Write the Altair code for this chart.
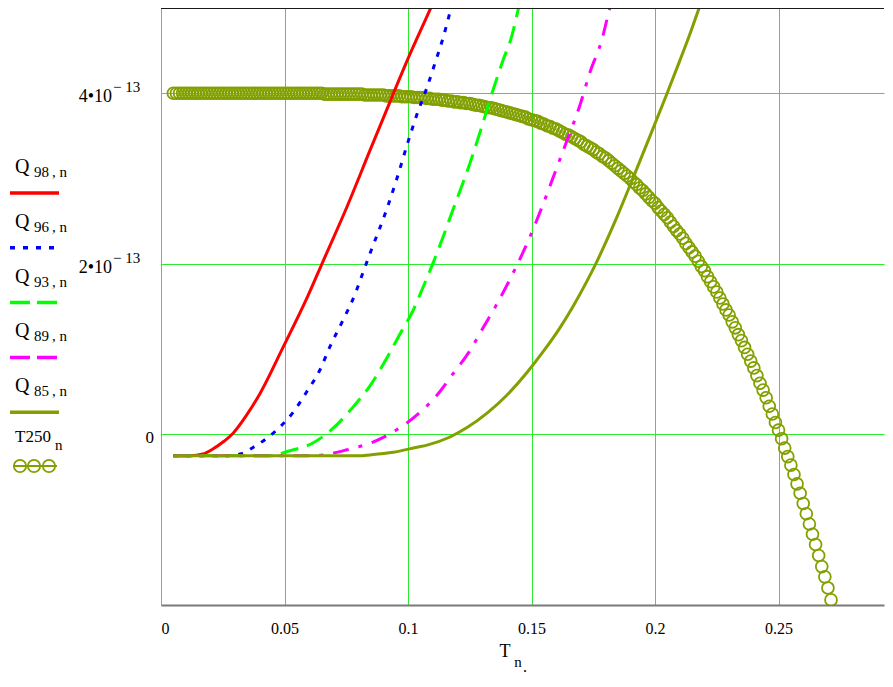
import altair as alt
import pandas as pd

SCALE = 1e-13
SERIF = "Liberation Serif"
GRID = "#2eea2e"
OLIVE = "#82a000"

# ---- Q curves (T, value in units of 1e-13) ----
Q98_T = [0.005, 0.012, 0.017, 0.021, 0.0255, 0.0292, 0.0345, 0.0401, 0.0494, 0.0591, 0.0656, 0.0753, 0.0846, 0.0927, 0.0996, 0.1089, 0.115]
Q98_V = [-0.25, -0.25, -0.23, -0.17, -0.08, 0.015, 0.22, 0.48, 1.02, 1.60, 2.03, 2.67, 3.33, 3.90, 4.38, 4.98, 5.38]

Q96_T = [0.005, 0.025, 0.032, 0.0374, 0.046, 0.0535, 0.059, 0.0644, 0.0684, 0.0737, 0.0785, 0.0818, 0.0846, 0.0915, 0.0955, 0.100, 0.1036, 0.1077, 0.111, 0.1142, 0.117, 0.122]
Q96_V = [-0.25, -0.25, -0.23, -0.15, 0.03, 0.26, 0.50, 0.76, 1.03, 1.34, 1.64, 1.90, 2.12, 2.65, 3.00, 3.43, 3.75, 4.07, 4.36, 4.65, 4.95, 5.45]

Q93_T = [0.005, 0.045, 0.051, 0.0615, 0.0696, 0.0777, 0.0846, 0.0915, 0.0968, 0.102, 0.106, 0.110, 0.114, 0.118, 0.122, 0.126, 0.130, 0.134, 0.1385, 0.142, 0.1445, 0.150]
Q93_V = [-0.25, -0.25, -0.20, -0.10, 0.07, 0.32, 0.57, 0.90, 1.18, 1.45, 1.72, 2.00, 2.30, 2.62, 2.93, 3.26, 3.62, 4.00, 4.39, 4.67, 4.97, 5.60]

Q89_T = [0.005, 0.060, 0.0656, 0.0753, 0.0858, 0.0968, 0.1049, 0.1117, 0.1182, 0.125, 0.1304, 0.136, 0.1413, 0.1482, 0.1543, 0.160, 0.1644, 0.1696, 0.1737, 0.1785, 0.181, 0.186]
Q89_V = [-0.25, -0.25, -0.24, -0.18, -0.09, 0.08, 0.26, 0.46, 0.71, 0.98, 1.25, 1.53, 1.82, 2.24, 2.67, 3.11, 3.45, 3.86, 4.25, 4.63, 4.92, 5.50]

Q85_T = [0.005, 0.080, 0.0846, 0.094, 0.1036, 0.1077, 0.117, 0.1239, 0.132, 0.140, 0.148, 0.1547, 0.1615, 0.1668, 0.1725, 0.1765, 0.1846, 0.191, 0.198, 0.2049, 0.210, 0.2142, 0.217, 0.222]
Q85_V = [-0.25, -0.25, -0.24, -0.21, -0.15, -0.125, -0.03, 0.08, 0.25, 0.46, 0.72, 0.97, 1.25, 1.50, 1.80, 2.03, 2.55, 3.00, 3.50, 4.00, 4.38, 4.70, 4.93, 5.32]

# ---- T250 samples (circles), value in units of 1e-13 ----
T_START = 0.005
T_STEP = 0.00125
T250_V = [
    4.00, 4.00, 4.00, 4.00, 4.00, 4.00, 4.00, 4.00, 4.00, 4.00,
    4.00, 4.00, 4.00, 4.00, 4.00, 4.00, 4.00, 4.00, 4.00, 4.00,
    4.00, 4.00, 4.00, 4.00, 4.00, 4.00, 4.00, 4.00, 4.00, 4.00,
    4.00, 4.00, 4.00, 4.00, 4.00, 4.00, 4.00, 4.00, 4.00, 4.00,
    4.00, 4.00, 4.00, 4.00, 4.00, 4.00, 4.00, 4.00, 4.00, 3.99,
    3.99, 3.99, 3.99, 3.99, 3.99, 3.99, 3.99, 3.99, 3.99, 3.99,
    3.99, 3.99, 3.98, 3.98, 3.98, 3.98, 3.98, 3.98, 3.98, 3.97,
    3.97, 3.97, 3.97, 3.97, 3.96, 3.96, 3.96, 3.96, 3.95, 3.95,
    3.95, 3.95, 3.94, 3.94, 3.93, 3.93, 3.93, 3.92, 3.92, 3.91,
    3.91, 3.90, 3.90, 3.89, 3.89, 3.88, 3.88, 3.87, 3.86, 3.86,
    3.85, 3.84, 3.83, 3.83, 3.82, 3.81, 3.80, 3.79, 3.78, 3.77,
    3.76, 3.75, 3.74, 3.73, 3.72, 3.70, 3.69, 3.68, 3.67, 3.65,
    3.64, 3.62, 3.61, 3.59, 3.58, 3.56, 3.54, 3.52, 3.51, 3.49,
    3.47, 3.45, 3.43, 3.40, 3.38, 3.36, 3.34, 3.31, 3.29, 3.26,
    3.24, 3.21, 3.18, 3.15, 3.12, 3.09, 3.06, 3.03, 3.00, 2.96,
    2.93, 2.89, 2.86, 2.82, 2.78, 2.74, 2.71, 2.66, 2.62, 2.58,
    2.54, 2.49, 2.44, 2.39, 2.35, 2.30, 2.24, 2.19, 2.14, 2.09,
    2.03, 1.97, 1.92, 1.85, 1.79, 1.73, 1.67, 1.60, 1.53, 1.46,
    1.40, 1.32, 1.25, 1.17, 1.10, 1.02, 0.94, 0.86, 0.78, 0.69,
    0.60, 0.52, 0.43, 0.33, 0.24, 0.14, 0.05, -0.05, -0.16, -0.26,
    -0.36, -0.47, -0.58, -0.69, -0.81, -0.93, -1.05, -1.17, -1.29, -1.42,
    -1.55, -1.67, -1.80, -1.94, -2.08,
]

X_TICKS = [0, 0.05, 0.1, 0.15, 0.2, 0.25]
Y_TICKS = [0, 2e-13, 4e-13]
Y_LABELS = ["0", "2\u202210", "4\u202210"]
Y_SUPS = ["", "\u2212 13", "\u2212 13"]

SERIES = [
    ("98", Q98_T, Q98_V, "#ff0000", None, None),
    ("96", Q96_T, Q96_V, "#0000ff", [5, 8], [5, 8]),
    ("93", Q93_T, Q93_V, "#00ff00", [18, 9], [20, 7]),
    ("89", Q89_T, Q89_V, "#ff00ff", [16, 10, 4, 10], [20, 7]),
    ("85", Q85_T, Q85_V, OLIVE, None, None),
]

W, H = 723, 597
xscale = alt.Scale(domain=[0, 0.2927], nice=False, zero=False)
yscale = alt.Scale(domain=[-2e-13, 5e-13], nice=False, zero=False)

xaxis = alt.Axis(values=X_TICKS, labelExpr="format(datum.value, '~g')", grid=True,
                 gridColor=GRID, gridWidth=1, gridOpacity=1, ticks=False, tickSize=0,
                 domain=True, domainColor="#7a7a7a", domainWidth=2,
                 labelFont=SERIF, labelFontSize=16, labelColor="#000000",
                 labelPadding=15, labelOverlap=False, title=None)
yaxis = alt.Axis(values=Y_TICKS, grid=True, gridColor=GRID, gridWidth=1, gridOpacity=1,
                 ticks=False, labels=False, domain=False, title=None)

t250_df = pd.DataFrame({
    "T": [round(T_START + i * T_STEP, 6) for i in range(len(T250_V))],
    "Q": [v * SCALE for v in T250_V],
})

layers = []
layers.append(
    alt.Chart(t250_df).mark_point(shape="circle", filled=False, size=140, strokeWidth=1.8,
                                  color=OLIVE, opacity=1, clip=True)
    .encode(x=alt.X("T:Q", scale=xscale, axis=xaxis),
            y=alt.Y("Q:Q", scale=yscale, axis=yaxis))
)

for name, ts, vs, col, dash, _ in SERIES:
    df = pd.DataFrame({"T": ts, "Q": [v * SCALE for v in vs]})
    kw = dict(color=col, strokeWidth=3, clip=True, interpolate="monotone")
    if dash:
        kw["strokeDash"] = dash
    layers.append(
        alt.Chart(df).mark_line(**kw).encode(
            x=alt.X("T:Q", scale=xscale, axis=xaxis),
            y=alt.Y("Q:Q", scale=yscale, axis=yaxis))
    )

# y tick labels with superscripts
ylab_df = pd.DataFrame({"v": Y_TICKS[1:], "t": Y_LABELS[1:], "s": Y_SUPS[1:]})
layers.append(
    alt.Chart(ylab_df).mark_text(align="right", baseline="alphabetic", dy=9, font=SERIF,
                                 fontSize=18, color="#000")
    .encode(y=alt.Y("v:Q", scale=yscale, axis=yaxis), x=alt.value(-49), text="t:N")
)
layers.append(
    alt.Chart(ylab_df).mark_text(align="left", baseline="alphabetic", dy=-1, font=SERIF,
                                 fontSize=15, color="#000")
    .encode(y=alt.Y("v:Q", scale=yscale, axis=yaxis), x=alt.value(-48), text="s:N")
)
zero_df = pd.DataFrame({"v": Y_TICKS[:1], "t": Y_LABELS[:1]})
layers.append(
    alt.Chart(zero_df).mark_text(align="right", baseline="alphabetic", dy=9, font=SERIF,
                                 fontSize=17, color="#000")
    .encode(y=alt.Y("v:Q", scale=yscale, axis=yaxis), x=alt.value(-7), text="t:N")
)


def text_layer(txt, px, py, size, align="left", baseline="alphabetic"):
    return alt.Chart(pd.DataFrame({"t": [txt]})).mark_text(
        align=align, baseline=baseline, font=SERIF, fontSize=size, color="#000"
    ).encode(x=alt.value(px), y=alt.value(py), text="t:N")


def rule_layer(x1, x2, py, col, width, dash=None):
    kw = dict(color=col, strokeWidth=width)
    if dash:
        kw["strokeDash"] = dash
    return alt.Chart(pd.DataFrame({"a": [0]})).mark_rule(**kw).encode(
        x=alt.value(x1), x2=alt.value(x2), y=alt.value(py))


# legend on the left
for i, (name, ts, vs, col, dash, ldash) in enumerate(SERIES):
    base = 165 + 54.8 * i
    layers.append(text_layer("Q", -146, base, 20))
    layers.append(text_layer("%s\u2009, n" % name, -127, base + 4, 15))
    layers.append(rule_layer(-151, -102, base + 20, col, 3.5, ldash))

layers.append(text_layer("T250", -146, 434, 17))
layers.append(text_layer("n", -106, 442, 15))
layers.append(rule_layer(-148, -104, 458, OLIVE, 1.8))
for cx in [-141, -127, -112]:
    layers.append(
        alt.Chart(pd.DataFrame({"a": [0]})).mark_point(shape="circle", filled=False, size=150,
                                                      strokeWidth=1.8, color=OLIVE, opacity=1)
        .encode(x=alt.value(cx), y=alt.value(458))
    )

# x axis title
layers.append(text_layer("T", 344, 649, 18, align="center"))
layers.append(text_layer("n", 357, 659, 15, align="center"))
layers.append(text_layer(".", 364, 664, 16, align="center"))

# top border
layers.append(rule_layer(0, W, 0, "#1a1a1a", 2))

chart = alt.layer(*layers).properties(
    width=W, height=H,
    padding={"left": 153, "top": 0, "right": 1, "bottom": 70},
    autosize=alt.AutoSizeParams(type="none"),
    background="white",
).configure_view(stroke=None)

chart.save("out.html", embed_options={"renderer": "svg", "actions": False})
